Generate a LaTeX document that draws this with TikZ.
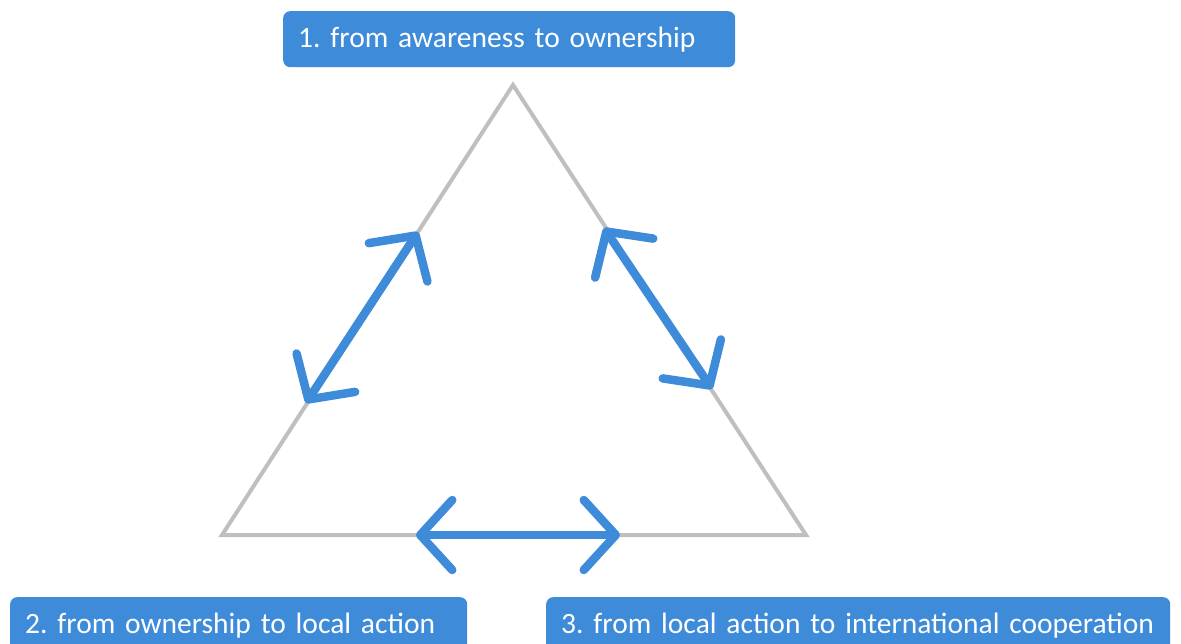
\documentclass[tikz,border=0pt]{standalone}
\usepackage{fontspec}
\setmainfont{Carlito}
\usetikzlibrary{arrows.meta}
\definecolor{boxblue}{RGB}{61,139,217}
\definecolor{edgegray}{RGB}{191,191,191}
\frenchspacing

\begin{document}
\begin{tikzpicture}[x=1pt, y=-1pt,
    stage/.style={fill=boxblue, text=white, rounded corners=7pt, anchor=north west,
        minimum height=56pt, inner xsep=15pt, align=left, font=\fontsize{29.5}{34}\selectfont},
    flow/.style={line width=8.5pt, boxblue, line cap=round,
        {Straight Barb[length=32pt, width=70pt, round]}-{Straight Barb[length=32pt, width=70pt, round]}}]

    \useasboundingbox (0,0) rectangle (1181,644);
    \clip (0,0) rectangle (1181,644);

    % triangle
    \coordinate (top) at (513,85);
    \coordinate (left) at (222,535);
    \coordinate (right) at (806,535);
    \draw[edgegray, line width=4pt] (top) -- (left) -- (right) -- cycle;

    % stages
    \node[stage, text width=422pt] (aware) at (283,11) {1. from awareness to ownership};
    \node[stage, text width=427pt] (local) at (10,597) {2. from ownership to local action};
    \node[stage, text width=594pt] (inter) at (546,597) {3. from local action to international cooperation};

    % two-way arrows on the edges
    \coordinate (a1) at (418,232);
    \coordinate (a2) at (306,403);
    \coordinate (b1) at (604,228);
    \coordinate (b2) at (712,389);
    \coordinate (c1) at (416,535);
    \coordinate (c2) at (620,535);
    \draw[flow] (a2) -- (a1);
    \draw[flow] (b1) -- (b2);
    \draw[flow] (c1) -- (c2);

\end{tikzpicture}
\end{document}
